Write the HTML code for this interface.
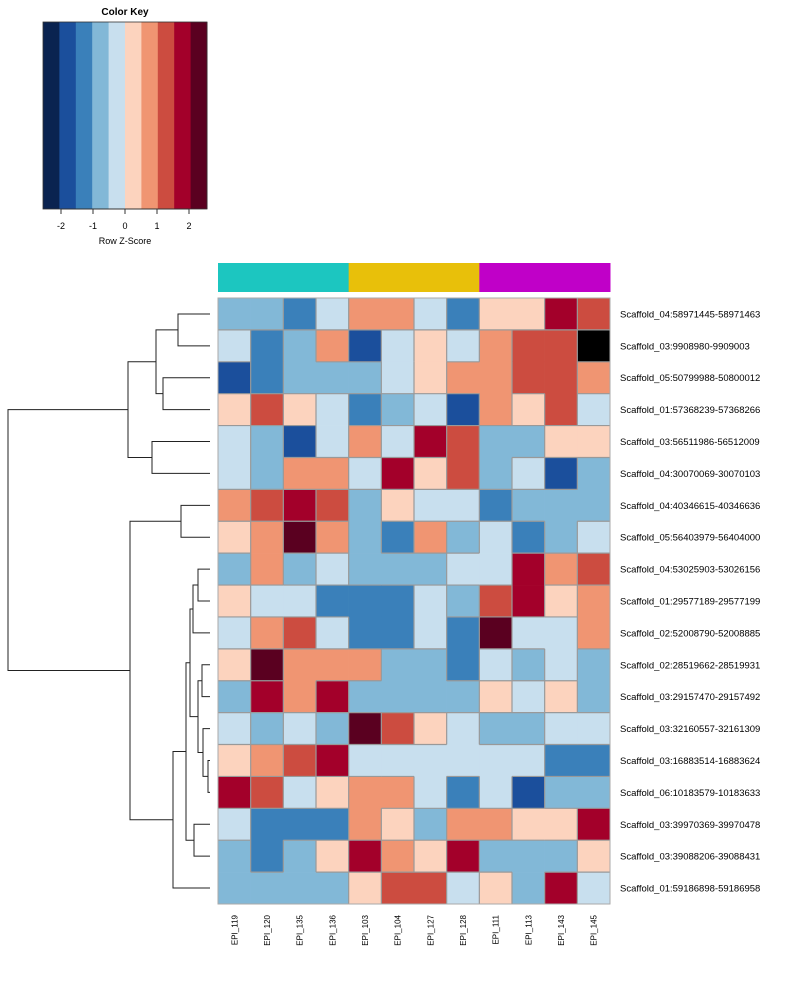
<!DOCTYPE html>
<html><head><meta charset="utf-8"><style>
body{margin:0;background:#fff;}
svg{display:block;font-family:"Liberation Sans",Arial,sans-serif;}
</style></head><body>
<svg id="chart" width="800" height="1000" viewBox="0 0 800 1000"></svg>
<script>
const palette=["#0A2350","#1B4F9C","#3A80BA","#82B8D7","#C8DFEE","#FCD3BE","#F09572","#CC4C40","#A3002A","#5A0020"];
const columns=["EPI_119","EPI_120","EPI_135","EPI_136","EPI_103","EPI_104","EPI_127","EPI_128","EPI_111","EPI_113","EPI_143","EPI_145"];
const groupColors=["#1CC6C0","#1CC6C0","#1CC6C0","#1CC6C0","#E8C00A","#E8C00A","#E8C00A","#E8C00A","#C000C8","#C000C8","#C000C8","#C000C8"];
const rows=["Scaffold_04:58971445-58971463","Scaffold_03:9908980-9909003","Scaffold_05:50799988-50800012","Scaffold_01:57368239-57368266","Scaffold_03:56511986-56512009","Scaffold_04:30070069-30070103","Scaffold_04:40346615-40346636","Scaffold_05:56403979-56404000","Scaffold_04:53025903-53026156","Scaffold_01:29577189-29577199","Scaffold_02:52008790-52008885","Scaffold_02:28519662-28519931","Scaffold_03:29157470-29157492","Scaffold_03:32160557-32161309","Scaffold_03:16883514-16883624","Scaffold_06:10183579-10183633","Scaffold_03:39970369-39970478","Scaffold_03:39088206-39088431","Scaffold_01:59186898-59186958"];
// color level per cell (0 = darkest blue, 9 = darkest red, -1 = black)
const values=[
[3,3,2,4,6,6,4,2,5,5,8,7],
[4,2,3,6,1,4,5,4,6,7,7,-1],
[1,2,3,3,3,4,5,6,6,7,7,6],
[5,7,5,4,2,3,4,1,6,5,7,4],
[4,3,1,4,6,4,8,7,3,3,5,5],
[4,3,6,6,4,8,5,7,3,4,1,3],
[6,7,8,7,3,5,4,4,2,3,3,3],
[5,6,9,6,3,2,6,3,4,2,3,4],
[3,6,3,4,3,3,3,4,4,8,6,7],
[5,4,4,2,2,2,4,3,7,8,5,6],
[4,6,7,4,2,2,4,2,9,4,4,6],
[5,9,6,6,6,3,3,2,4,3,4,3],
[3,8,6,8,3,3,3,3,5,4,5,3],
[4,3,4,3,9,7,5,4,3,3,4,4],
[5,6,7,8,4,4,4,4,4,4,2,2],
[8,7,4,5,6,6,4,2,4,1,3,3],
[4,2,2,2,6,5,3,6,6,5,5,8],
[3,2,3,5,8,6,5,8,3,3,3,5],
[3,3,3,3,5,7,7,4,5,3,8,4]];
// dendrogram merges: [left, right, height(px x)] ; leaves are row indices, nodes "n#" by order
const merges=[[0,1,178],[2,3,163],["n0","n1",156],[4,5,152],["n2","n3",128],[6,7,181],[8,9,198],["n6",10,193],[11,12,202],[14,15,208],[13,"n9",203],["n8","n10",198],["n7","n11",190],[16,17,194],["n12","n13",186],["n14",18,173],["n5","n15",130],["n4","n16",8]];
const keyTicks=[-2,-1,0,1,2];

const NS="http://www.w3.org/2000/svg";
const svg=document.getElementById('chart');
function mk(t,a,p){const e=document.createElementNS(NS,t);for(const k in a)e.setAttribute(k,a[k]);(p||svg).appendChild(e);return e;}
const X0=218,X1=610,Y0=298,Y1=904;
const cw=(X1-X0)/columns.length, rh=(Y1-Y0)/rows.length;
const cx=j=>X0+j*cw, ry=i=>Y0+i*rh;
// color key
const KX0=43,KX1=207,KY0=22,KY1=209;
const kw=(KX1-KX0)/palette.length;
let t=mk('text',{x:125,y:15,'text-anchor':'middle','font-size':10,'font-weight':'bold'});t.textContent='Color Key';

palette.forEach((c,i)=>{const r=mk('rect',{x:KX0+i*kw,y:KY0,width:kw+0.5,height:KY1-KY0,fill:c});
});
mk('rect',{x:KX0,y:KY0,width:KX1-KX0,height:KY1-KY0,fill:'none',stroke:'#333','stroke-width':0.8});
const kScale=v=>125+v*32;
mk('line',{x1:kScale(-2),x2:kScale(2),y1:KY1,y2:KY1,stroke:'#333'});
keyTicks.forEach(v=>{mk('line',{x1:kScale(v),x2:kScale(v),y1:KY1,y2:KY1+5,stroke:'#333'});
const tl=mk('text',{x:kScale(v),y:229,'text-anchor':'middle','font-size':9});tl.textContent=v;
});
t=mk('text',{x:125,y:244,'text-anchor':'middle','font-size':9});t.textContent='Row Z-Score';

// group bar
groupColors.forEach((c,j)=>{const r=mk('rect',{x:cx(j),y:263,width:cw+0.5,height:29,fill:c});
});
// cells
values.forEach((row,i)=>row.forEach((v,j)=>{const r=mk('rect',{x:cx(j),y:ry(i),width:cw+0.3,height:rh+0.3,fill:v<0?'#000':palette[v]});
}));
// grid lines where neighbours differ
values.forEach((row,i)=>row.forEach((v,j)=>{
 if(j<row.length-1&&row[j+1]!==v)mk('line',{x1:cx(j+1),x2:cx(j+1),y1:ry(i),y2:ry(i+1),stroke:'#999','stroke-width':1.2});
 if(i<values.length-1&&values[i+1][j]!==v)mk('line',{x1:cx(j),x2:cx(j+1),y1:ry(i+1),y2:ry(i+1),stroke:'#999','stroke-width':1.2});
}));
mk('rect',{x:X0,y:Y0,width:X1-X0,height:Y1-Y0,fill:'none',stroke:'#aaa','stroke-width':1});
// row labels
rows.forEach((n,i)=>{const e=mk('text',{x:620,y:ry(i)+rh/2+3.5,'font-size':9.5});e.textContent=n;
});
// column labels
columns.forEach((n,j)=>{const x=cx(j)+cw/2+3,y=915;const e=mk('text',{x:x,y:y,'font-size':8,'text-anchor':'end',transform:`rotate(-90 ${x} ${y})`});e.textContent=n;
});
// dendrogram
const LEAFX=210;const nodes={};
function pos(k){if(typeof k==='number')return {y:ry(k)+rh/2,x:LEAFX};return nodes[k];}
const dg=mk('g',{stroke:'#222','stroke-width':1,fill:'none'});

merges.forEach((m,k)=>{const a=pos(m[0]),b=pos(m[1]),h=m[2];
 mk('path',{d:`M${a.x},${a.y}H${h}V${b.y}H${b.x}`},dg);
 nodes['n'+k]={x:h,y:(a.y+b.y)/2};});
</script>
</body></html>
